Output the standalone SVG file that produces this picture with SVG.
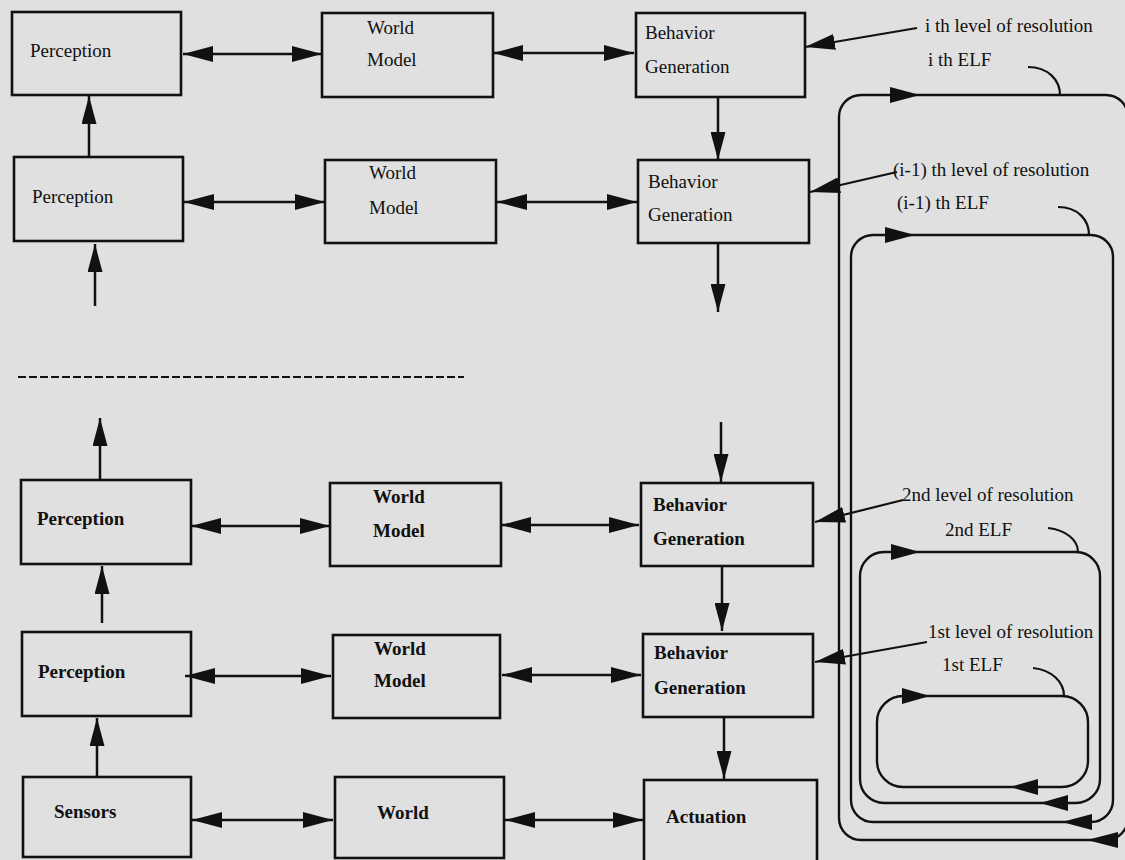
<svg xmlns="http://www.w3.org/2000/svg" width="1125" height="860" viewBox="0 0 1125 860">
<defs>
<marker id="ah" markerUnits="userSpaceOnUse" markerWidth="30" markerHeight="16" refX="30" refY="8" orient="auto-start-reverse">
<path d="M0,0 L30,8 L0,16 z" fill="#111"/>
</marker>
<marker id="av" markerUnits="userSpaceOnUse" markerWidth="28" markerHeight="15" refX="28" refY="7.5" orient="auto-start-reverse">
<path d="M0,0 L28,7.5 L0,15 z" fill="#111"/>
</marker>
<style>
.box{fill:none;stroke:#111;stroke-width:2.6}
.t{font-family:"Liberation Serif","Times New Roman",serif;font-size:19px;fill:#111}
.b{font-weight:bold}
.h{fill:none;stroke:#111;stroke-width:2.5;marker-start:url(#ah);marker-end:url(#ah)}
.v{fill:none;stroke:#111;stroke-width:2.5;marker-end:url(#av)}
.l{fill:none;stroke:#111;stroke-width:2.2;marker-end:url(#ah)}
.loop{fill:none;stroke:#111;stroke-width:2.4}
.hook{fill:none;stroke:#111;stroke-width:2.2}
.head{fill:#111}
</style>
</defs>
<rect x="0" y="0" width="1125" height="860" fill="#e0e0e0"/>

<g id="perception1"><rect class="box" x="12" y="12" width="169" height="83"/><text class="t" x="30" y="57">Perception</text></g>
<g id="worldmodel1"><rect class="box" x="322" y="13" width="171" height="84"/><text class="t" x="367" y="34">World</text><text class="t" x="367" y="66">Model</text></g>
<g id="behavior1"><rect class="box" x="636" y="13" width="169" height="84"/><text class="t" x="645" y="39">Behavior</text><text class="t" x="645" y="73">Generation</text></g>

<g id="perception2"><rect class="box" x="14" y="157" width="169" height="84"/><text class="t" x="32" y="203">Perception</text></g>
<g id="worldmodel2"><rect class="box" x="325" y="160" width="171" height="83"/><text class="t" x="369" y="179">World</text><text class="t" x="369" y="214">Model</text></g>
<g id="behavior2"><rect class="box" x="638" y="160" width="171" height="83"/><text class="t" x="648" y="188">Behavior</text><text class="t" x="648" y="221">Generation</text></g>

<g id="perception3"><rect class="box" x="21" y="480" width="170" height="84"/><text class="t b" x="37" y="525">Perception</text></g>
<g id="worldmodel3"><rect class="box" x="330" y="483" width="171" height="83"/><text class="t b" x="373" y="503">World</text><text class="t b" x="373" y="537">Model</text></g>
<g id="behavior3"><rect class="box" x="641" y="483" width="172" height="83"/><text class="t b" x="653" y="511">Behavior</text><text class="t b" x="653" y="545">Generation</text></g>

<g id="perception4"><rect class="box" x="22" y="632" width="169" height="84"/><text class="t b" x="38" y="678">Perception</text></g>
<g id="worldmodel4"><rect class="box" x="333" y="635" width="167" height="83"/><text class="t b" x="374" y="655">World</text><text class="t b" x="374" y="687">Model</text></g>
<g id="behavior4"><rect class="box" x="643" y="634" width="170" height="83"/><text class="t b" x="654" y="659">Behavior</text><text class="t b" x="654" y="694">Generation</text></g>

<g id="sensors"><rect class="box" x="23" y="777" width="168" height="80"/><text class="t b" x="54" y="818">Sensors</text></g>
<g id="world"><rect class="box" x="335" y="777" width="169" height="81"/><text class="t b" x="377" y="819">World</text></g>
<g id="actuation"><rect class="box" x="644" y="780" width="173" height="84"/><text class="t b" x="666" y="823">Actuation</text></g>

<g id="labels">
<text class="t" x="925" y="32">i th level of resolution</text>
<text class="t" x="928" y="66">i th ELF</text>
<text class="t" x="893" y="176">(i-1) th level of resolution</text>
<text class="t" x="897" y="209">(i-1) th ELF</text>
<text class="t" x="902" y="501">2nd level of resolution</text>
<text class="t" x="945" y="536">2nd ELF</text>
<text class="t" x="928" y="638">1st level of resolution</text>
<text class="t" x="942" y="671">1st ELF</text>
</g>

<g id="connectors">
<path class="h" d="M183,54 H322"/>
<path class="h" d="M493,53 H634"/>
<path class="h" d="M184,202 H325"/>
<path class="h" d="M497,202 H637"/>
<path class="h" d="M191,526 H330"/>
<path class="h" d="M501,525 H639"/>
<path class="h" d="M185,676 H331"/>
<path class="h" d="M502,675 H641"/>
<path class="h" d="M192,820 H333"/>
<path class="h" d="M505,820 H643"/>

<path class="v" d="M89,157 V96"/>
<path class="v" d="M718,97 V160"/>
<path class="v" d="M95,306 V244"/>
<path class="v" d="M718,243 V312"/>
<path class="v" d="M721,422 V482"/>
<path class="v" d="M100,480 V418"/>
<path class="v" d="M722,566 V631"/>
<path class="v" d="M102,623 V566"/>
<path class="v" d="M724,717 V779"/>
<path class="v" d="M97,777 V718"/>

<path class="l" d="M917,28 L805,47"/>
<path class="l" d="M897,172 L810,192"/>
<path class="l" d="M903,500 L815,522"/>
<path class="l" d="M927,642 L815,662"/>

<path d="M18,377 H464" fill="none" stroke="#111" stroke-width="2.2" stroke-dasharray="8,3"/>

<rect class="loop" x="839" y="95" width="289" height="745" rx="22"/>
<rect class="loop" x="851" y="235" width="262" height="587" rx="22"/>
<rect class="loop" x="860" y="552" width="240" height="251" rx="24"/>
<rect class="loop" x="877" y="696" width="211" height="91" rx="26"/>

<polygon class="head" points="890,87 920,95 890,103"/>
<polygon class="head" points="885,227 915,235 885,243"/>
<polygon class="head" points="891,544 920,552 891,560"/>
<polygon class="head" points="902,688 930,696 902,704"/>
<polygon class="head" points="1038,779 1010,787 1038,795"/>
<polygon class="head" points="1068,795 1040,803 1068,811"/>
<polygon class="head" points="1092,814 1062,822 1092,830"/>
<polygon class="head" points="1118,832 1087,840 1118,848"/>

<path class="hook" d="M1028,67 C1048,67 1060,80 1060,95"/>
<path class="hook" d="M1058,207 C1078,207 1089,220 1089,235"/>
<path class="hook" d="M1048,528 C1066,530 1078,540 1078,552"/>
<path class="hook" d="M1033,668 C1052,670 1064,682 1064,696"/>
</g>
</svg>
